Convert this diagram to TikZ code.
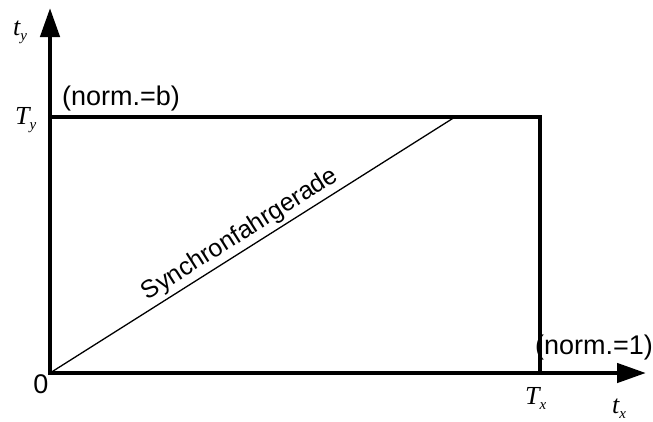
\documentclass[tikz,border=0pt]{standalone}
\usepackage{fontspec}
\setmainfont{Liberation Sans}
\newfontfamily\tms{Liberation Serif}
\usetikzlibrary{arrows.meta}
\newcommand{\subx}[1]{\raisebox{-5pt}{\fontsize{15}{17}\selectfont #1}}
\begin{document}
\begin{tikzpicture}[x=1pt,y=-1pt,
  axis/.style={line width=4.5pt, {Triangle[length=29pt,width=19pt]}-{Triangle[length=29pt,width=19pt]}},
  frame/.style={line width=4.5pt},
  thinline/.style={line width=1.3pt},
  lbl/.style={font=\fontsize{27}{31}\selectfont, inner sep=0pt},
  mlbl/.style={font=\tms\itshape\fontsize{26}{30}\selectfont, inner sep=0pt, anchor=base west}]
\useasboundingbox (0,0) rectangle (653,421);
\coordinate (O) at (50,373);
\coordinate (ytip) at (50,8);
\coordinate (xtip) at (646,373);
\coordinate (TL) at (50,117);
\coordinate (TR) at (540,117);
\coordinate (BR) at (540,373);
\coordinate (D) at (455,117);
\draw[frame] (TL) -- (TR) -- (BR);
\draw[axis] (ytip) -- (O) -- (xtip);
\draw[thinline] (O) -- (D) node[pos=0.49, sloped, above, lbl, font=\fontsize{25}{29}\selectfont, inner sep=3pt] (sync) {Synchronfahrgerade};
\node[lbl] (nb) at (121,99) {(norm.=b)};
\node[lbl] (n1) at (594,348) {(norm.=1)};
\node[lbl] (zero) at (41,384) {0};
\node[mlbl] (ty) at (13,35) {t\subx{y}};
\node[mlbl] (Ty) at (15,124) {T\subx{y}};
\node[mlbl] (Tx) at (525,404) {T\subx{x}};
\node[mlbl] (tx) at (612,413) {t\subx{x}};
\end{tikzpicture}
\end{document}
